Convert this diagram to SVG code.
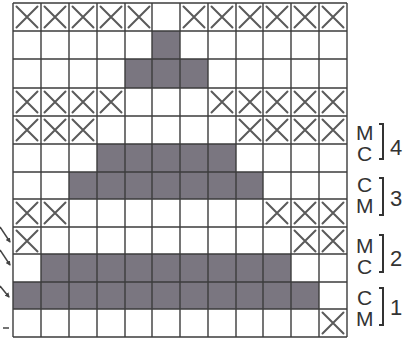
<svg xmlns="http://www.w3.org/2000/svg" xmlns:xlink="http://www.w3.org/1999/xlink" width="415" height="339" viewBox="0 0 415 339">
<style>
.g{fill:#7a7680}
.gl{stroke:#3c3c3c;stroke-width:1.4;fill:none}
.xm{stroke:#5a5a5a;stroke-width:2;fill:none;stroke-linecap:round}
.lt{font-family:"Liberation Sans",Arial,sans-serif;font-size:21px;fill:#333}
.nm{font-family:"Liberation Sans",Arial,sans-serif;font-size:22px;fill:#333}
.br{stroke:#333;stroke-width:2;fill:none}
.ar{stroke:#444;stroke-width:1.5;fill:none}
</style>
<defs>
<path id="x" class="xm" d="M3.5 3.5L24.5 24.5M24.5 3.5L3.5 24.5"/>
<marker id="ah" viewBox="0 0 10 10" refX="8" refY="5" markerWidth="5" markerHeight="5" orient="auto" markerUnits="userSpaceOnUse">
<path d="M0 0L10 5L0 10Z" fill="#444"/>
</marker>
</defs>
<rect width="415" height="339" fill="#fff"/>
<g id="fills">
<rect class="g" x="152" y="31" width="28" height="28"/>
<rect class="g" x="125" y="59" width="83" height="29"/>
<rect class="g" x="97" y="144" width="139" height="28"/>
<rect class="g" x="69" y="172" width="194" height="27"/>
<rect class="g" x="41" y="254" width="250" height="28"/>
<rect class="g" x="13" y="282" width="306" height="27"/>
</g>
<g id="marks">
<use xlink:href="#x" href="#x" x="13" y="3"/><use xlink:href="#x" href="#x" x="41" y="3"/><use xlink:href="#x" href="#x" x="69" y="3"/><use xlink:href="#x" href="#x" x="97" y="3"/><use xlink:href="#x" href="#x" x="125" y="3"/>
<use xlink:href="#x" href="#x" x="180" y="3"/><use xlink:href="#x" href="#x" x="208" y="3"/><use xlink:href="#x" href="#x" x="236" y="3"/><use xlink:href="#x" href="#x" x="263" y="3"/><use xlink:href="#x" href="#x" x="291" y="3"/><use xlink:href="#x" href="#x" x="319" y="3"/>
<use xlink:href="#x" href="#x" x="13" y="88"/><use xlink:href="#x" href="#x" x="41" y="88"/><use xlink:href="#x" href="#x" x="69" y="88"/><use xlink:href="#x" href="#x" x="97" y="88"/>
<use xlink:href="#x" href="#x" x="208" y="88"/><use xlink:href="#x" href="#x" x="236" y="88"/><use xlink:href="#x" href="#x" x="263" y="88"/><use xlink:href="#x" href="#x" x="291" y="88"/><use xlink:href="#x" href="#x" x="319" y="88"/>
<use xlink:href="#x" href="#x" x="13" y="116"/><use xlink:href="#x" href="#x" x="41" y="116"/><use xlink:href="#x" href="#x" x="69" y="116"/>
<use xlink:href="#x" href="#x" x="236" y="116"/><use xlink:href="#x" href="#x" x="263" y="116"/><use xlink:href="#x" href="#x" x="291" y="116"/><use xlink:href="#x" href="#x" x="319" y="116"/>
<use xlink:href="#x" href="#x" x="13" y="199"/><use xlink:href="#x" href="#x" x="41" y="199"/>
<use xlink:href="#x" href="#x" x="263" y="199"/><use xlink:href="#x" href="#x" x="291" y="199"/><use xlink:href="#x" href="#x" x="319" y="199"/>
<use xlink:href="#x" href="#x" x="13" y="227"/>
<use xlink:href="#x" href="#x" x="291" y="227"/><use xlink:href="#x" href="#x" x="319" y="227"/>
<use xlink:href="#x" href="#x" x="319" y="309"/>
</g>
<g id="grid" class="gl">
<path d="M13 3V337M41 3V337M69 3V337M97 3V337M125 3V337M152 3V337M180 3V337M208 3V337M236 3V337M263 3V337M291 3V337M319 3V337M347 3V337"/>
<path d="M13 3H347M13 31H347M13 59H347M13 88H347M13 116H347M13 144H347M13 172H347M13 199H347M13 227H347M13 254H347M13 282H347M13 309H347M13 337H347"/>
</g>
<g id="label-4">
<text class="lt" x="356" y="140">M</text><text class="lt" x="357" y="161">C</text>
<path class="br" d="M379 124H383V159H379"/>
<text class="nm" x="390" y="155">4</text>
</g>
<g id="label-3">
<text class="lt" x="357" y="192">C</text><text class="lt" x="356" y="213">M</text>
<path class="br" d="M379 178H383V215H379"/>
<text class="nm" x="390" y="206">3</text>
</g>
<g id="label-2">
<text class="lt" x="356" y="253">M</text><text class="lt" x="357" y="274">C</text>
<path class="br" d="M379 235H383V272H379"/>
<text class="nm" x="390" y="266">2</text>
</g>
<g id="label-1">
<text class="lt" x="357" y="305">C</text><text class="lt" x="356" y="326">M</text>
<path class="br" d="M379 288H383V325H379"/>
<text class="nm" x="390" y="315">1</text>
</g>
<g id="connectors">
<path class="ar" marker-end="url(#ah)" d="M0 227L10 242"/>
<path class="ar" marker-end="url(#ah)" d="M0 250L10 265"/>
<path class="ar" marker-end="url(#ah)" d="M0 286L9 297"/>
<path class="ar" d="M3 328H9"/>
</g>
</svg>
